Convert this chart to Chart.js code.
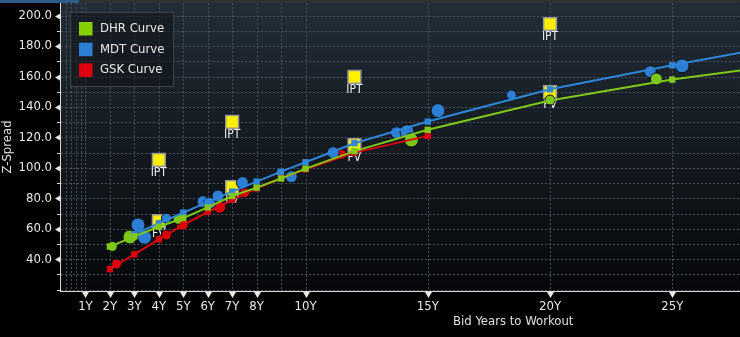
<!DOCTYPE html>
<html>
<head>
<meta charset="utf-8">
<script src="https://cdn.jsdelivr.net/npm/chart.js@4.4.0/dist/chart.umd.min.js"></script>
<style>
  html, body { margin: 0; padding: 0; background: #000; }
  #wrap { width: 740px; height: 337px; }
</style>
</head>
<body>
<div id="wrap"><canvas id="chart" width="740" height="337"></canvas></div>
<script>
const FONT = "'DejaVu Sans Condensed', 'DejaVu Sans', sans-serif";

// curve nodes (years, z-spread)
const dhrCurveX = [2, 3, 4, 5, 6, 7, 8, 9, 10, 12, 15, 20, 25, 28];
const dhrCurveY = [48.3, 55, 61.3, 67, 74, 81.5, 87, 93, 99.5, 111, 125, 144.2, 158, 164.5];
const mdtCurveX = [3, 4, 5, 6, 7, 8, 9, 10, 12, 15, 20, 25, 28];
const mdtCurveY = [56.5, 63.6, 70.6, 77.5, 84.4, 91, 97.5, 103.7, 116.2, 130.4, 151.6, 167.4, 176.3];
const gskCurveX = [2, 3, 4, 5, 6, 7, 8, 9, 10, 12, 15];
const gskCurveY = [33.5, 43.2, 53, 62.5, 71, 79, 86.6, 93.2, 99, 110, 121];

// individual bonds
const dhrBondX = [2.1, 2.82, 4.79, 14.33, 20, 24.35];
const dhrBondY = [48.4, 54.6, 66.2, 118.3, 144.6, 158.4];
const dhrBondR = [5, 7, 5, 7, 5, 6];
const mdtBondX = [3.15, 3.42, 4.31, 5.81, 6.08, 6.42, 7.42, 8.95, 9.42, 11.13, 13.72, 14.15, 15.42, 18.42, 24.1, 25.4];
const mdtBondY = [62.5, 54.4, 66.9, 77.8, 76.8, 81.5, 90.3, 96.8, 94.2, 110, 123.1, 123.8, 137.6, 147.9, 163.2, 167];
const mdtBondR = [7, 7, 5, 6, 6, 6, 6, 4, 6, 6, 6, 7, 7, 5, 6, 7];
const gskBondX = [2.27, 4.31, 4.96, 6.49, 7.51, 11.47];
const gskBondY = [36.9, 55.9, 62.9, 74.1, 83.7, 108.9];
const gskBondR = [5, 5, 6, 6, 5, 5];

// new issue guidance
const iptX = [4, 7, 12, 20];
const iptY = [105.2, 130.2, 159.7, 194.5];
const fvX = [4, 7, 12, 20];
const fvY = [65, 87.4, 115, 149.8];

const xTickVals = [1, 2, 3, 4, 5, 6, 7, 8, 10, 15, 20, 25];
const xGridVals = [0.2, 0.4, 0.6, 0.8, 1, 2, 3, 4, 5, 6, 7, 8, 9, 10, 15, 20, 25];
const yTickVals = [40, 60, 80, 100, 120, 140, 160, 180, 200];

const legendItems = [
  { label: 'DHR Curve', color: '#84d000' },
  { label: 'MDT Curve', color: '#2b80d6' },
  { label: 'GSK Curve', color: '#e0000e' }
];

const pts = (xs, ys) => xs.map((x, i) => ({ x: x, y: ys[i] }));

function curve(label, xs, ys, color) {
  return {
    label: label, data: pts(xs, ys), showLine: true, borderColor: color, borderWidth: 2,
    backgroundColor: color, pointStyle: 'rect',
    pointRadius: xs.map((x, i) => i === xs.length - 1 && x > 27 ? 0 : 4.5),
    pointBorderWidth: 0, order: 1
  };
}
function bonds(label, xs, ys, rs, color) {
  return {
    label: label, data: pts(xs, ys), showLine: false, backgroundColor: color,
    borderColor: '#0a0d10', borderWidth: 1, pointRadius: rs, order: 3
  };
}
function guide(label, xs, ys) {
  return {
    label: label, data: pts(xs, ys), showLine: false, pointStyle: 'rect', pointRadius: 9,
    backgroundColor: '#fff000', borderColor: '#9a9a9a', borderWidth: 1.5, order: 5
  };
}

const decor = {
  id: 'decor',
  beforeDraw(chart) {
    const { ctx, chartArea: a } = chart;
    ctx.save();
    ctx.fillStyle = '#000';
    ctx.fillRect(0, 0, chart.width, chart.height);
    const g = ctx.createLinearGradient(0, a.top, 0, a.bottom);
    g.addColorStop(0, '#222d37');
    g.addColorStop(1, '#06080a');
    ctx.fillStyle = g;
    ctx.fillRect(a.left, a.top, a.right - a.left, a.bottom - a.top);
    ctx.fillStyle = '#2c3136';
    ctx.fillRect(0, 0, chart.width, 3);
    ctx.fillStyle = '#2d5b88';
    ctx.fillRect(0, 0, 79, 3);
    ctx.restore();
  },
  beforeDatasetsDraw(chart) {
    const { ctx, chartArea: a, scales: { x, y } } = chart;
    ctx.save();
    ctx.strokeStyle = '#4a535b';
    ctx.lineWidth = 1;
    ctx.setLineDash([2, 2]);
    ctx.beginPath();
    xGridVals.forEach(v => {
      const px = Math.round(x.getPixelForValue(v)) + 0.5;
      ctx.moveTo(px, a.top); ctx.lineTo(px, a.bottom);
    });
    for (let v = 20; v <= 200; v += 10) {
      const py = Math.round(y.getPixelForValue(v)) + 0.5;
      ctx.moveTo(a.left, py); ctx.lineTo(a.right, py);
    }
    ctx.stroke();
    ctx.setLineDash([]);
    // axis lines
    ctx.strokeStyle = '#d8d8d8';
    ctx.beginPath();
    ctx.moveTo(a.left - 0.5, a.top); ctx.lineTo(a.left - 0.5, a.bottom + 1);
    ctx.moveTo(a.left - 1, a.bottom + 0.5); ctx.lineTo(a.right, a.bottom + 0.5);
    for (let v = 20; v <= 200; v += 10) {
      if (yTickVals.includes(v)) continue;
      const py = Math.round(y.getPixelForValue(v)) + 0.5;
      ctx.moveTo(a.left - 4, py); ctx.lineTo(a.left, py);
    }
    ctx.stroke();
    ctx.fillStyle = '#e8e8e8';
    yTickVals.forEach(v => {
      const py = Math.round(y.getPixelForValue(v)) + 0.5;
      ctx.beginPath();
      ctx.moveTo(a.left - 6, py);
      ctx.lineTo(a.left - 1, py - 3);
      ctx.lineTo(a.left - 1, py + 3);
      ctx.closePath(); ctx.fill();
    });
    xTickVals.forEach(v => {
      const px = Math.round(x.getPixelForValue(v)) + 0.5;
      ctx.beginPath();
      ctx.moveTo(px, a.bottom + 7);
      ctx.lineTo(px - 3.5, a.bottom + 1);
      ctx.lineTo(px + 3.5, a.bottom + 1);
      ctx.closePath(); ctx.fill();
    });
    ctx.restore();
  },
  afterDatasetDraw(chart, args) {
    const ds = chart.data.datasets[args.index];
    if (ds.label !== 'IPT' && ds.label !== 'FV') return;
    const ctx = chart.ctx;
    ctx.save();
    ctx.font = '12px ' + FONT;
    ctx.fillStyle = '#eeeeee';
    ctx.textAlign = 'center';
    ctx.textBaseline = 'middle';
    args.meta.data.forEach(el => ctx.fillText(ds.label, el.x, el.y + 13));
    ctx.restore();
  },
  afterDraw(chart) {
    const { ctx, chartArea: a } = chart;
    ctx.save();
    // legend
    ctx.fillStyle = 'rgba(14,18,22,0.55)';
    ctx.fillRect(70.5, 12.5, 103, 74);
    ctx.strokeStyle = '#3c4248';
    ctx.lineWidth = 1;
    ctx.strokeRect(70.5, 12.5, 103, 74);
    ctx.font = '13px ' + FONT;
    ctx.textBaseline = 'middle';
    legendItems.forEach((it, i) => {
      const cy = 28.5 + i * 20.7;
      ctx.fillStyle = it.color;
      ctx.fillRect(79, cy - 6.5, 13.5, 13.5);
      ctx.fillStyle = '#e8e8e8';
      ctx.fillText(it.label, 100, cy);
    });
    // x axis title
    ctx.textAlign = 'center';
    ctx.fillStyle = '#e0e0e0';
    ctx.fillText('Bid Years to Workout', a.left + (a.right - a.left) * 0.666, 322);
    ctx.restore();
  }
};

new Chart(document.getElementById('chart').getContext('2d'), {
  type: 'scatter',
  data: {
    datasets: [
      guide('IPT', iptX, iptY),
      guide('FV', fvX, fvY),
      bonds('DHR', dhrBondX, dhrBondY, dhrBondR, '#7cc61a'),
      bonds('MDT', mdtBondX, mdtBondY, mdtBondR, '#2c7fd4'),
      bonds('GSK', gskBondX, gskBondY, gskBondR, '#d8000c'),
      curve('DHR Curve', dhrCurveX, dhrCurveY, '#80c81a'),
      curve('MDT Curve', mdtCurveX, mdtCurveY, '#2f86d8'),
      curve('GSK Curve', gskCurveX, gskCurveY, '#dc000c')
    ]
  },
  options: {
    responsive: false,
    animation: false,
    layout: { autoPadding: false, padding: { top: 3, right: 0, left: 0, bottom: 0 } },
    plugins: { legend: { display: false }, tooltip: { enabled: false } },
    scales: {
      x: {
        type: 'linear', min: 0, max: 27.77,
        grid: { display: false, drawTicks: false },
        border: { display: false },
        afterBuildTicks: s => { s.ticks = xTickVals.map(v => ({ value: v })); },
        afterFit: s => { s.height = 46; s.paddingLeft = 0; s.paddingRight = 0; },
        ticks: {
          autoSkip: false, maxRotation: 0, padding: 8, color: '#e8e8e8',
          font: { family: FONT, size: 13 },
          callback: v => v + 'Y'
        }
      },
      y: {
        type: 'linear', min: 19.1, max: 208.3,
        grid: { display: false, drawTicks: false },
        border: { display: false },
        afterBuildTicks: s => { s.ticks = yTickVals.map(v => ({ value: v })); },
        afterFit: s => { s.width = 61; s.paddingTop = 0; s.paddingBottom = 0; },
        title: {
          display: true, text: 'Z-Spread', color: '#e0e0e0',
          font: { family: FONT, size: 13 }, padding: { top: 0, bottom: 0 }
        },
        ticks: {
          padding: 9, color: '#e8e8e8',
          font: { family: FONT, size: 13 },
          callback: v => v.toFixed(1)
        }
      }
    }
  },
  plugins: [decor]
});
</script>
</body>
</html>
